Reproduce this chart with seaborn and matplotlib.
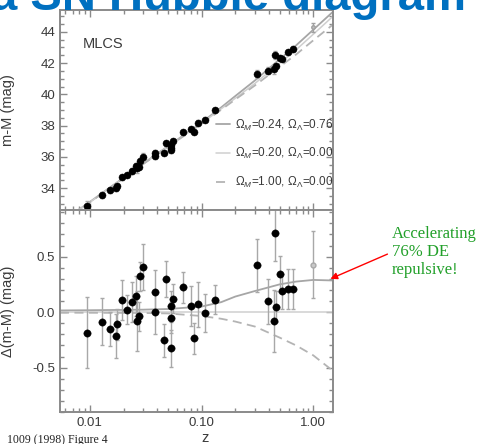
import pandas as pd
import seaborn as sns
import matplotlib.pyplot as plt
from matplotlib.ticker import AutoMinorLocator, MultipleLocator, FormatStrFormatter, NullFormatter

# --- data ---
z = [0.00946, 0.01274, 0.0151, 0.01734, 0.0171, 0.01923, 0.0216, 0.0236, 0.0260, 0.0265,
     0.0276, 0.0280, 0.0298, 0.0379, 0.0382, 0.0479, 0.0461, 0.0527, 0.0550, 0.0531,
     0.0534, 0.0676, 0.0797, 0.0847, 0.0932, 0.1071, 0.1325, 0.315, 0.453, 0.395,
     0.502, 0.460, 0.444, 0.524, 0.596, 0.653]
mm = [32.85, 33.57, 33.87, 34.13, 34.00, 34.69, 34.86, 35.11, 35.43, 35.26,
      35.37, 35.75, 36.01, 36.22, 36.05, 36.86, 36.26, 36.75, 37.00, 36.60,
      36.45, 37.57, 37.76, 37.61, 38.15, 38.38, 39.00, 41.31, 42.51, 41.52,
      42.35, 41.82, 41.61, 42.29, 42.68, 42.89]
delta = [-0.186, -0.086, -0.153, -0.108, -0.213, 0.105, 0.022, 0.094, 0.141, -0.081,
         -0.039, 0.322, 0.405, 0.18, 0.0, 0.30, -0.255, 0.051, 0.12, -0.05,
         -0.327, 0.225, 0.054, -0.237, 0.069, -0.009, 0.112, 0.42, 0.709, 0.096,
         0.342, 0.049, -0.081, 0.187, 0.207, 0.207]
err = [0.32, 0.21, 0.15, 0.14, 0.20, 0.18, 0.13, 0.18, 0.18, 0.27,
       0.13, 0.13, 0.21, 0.20, 0.20, 0.16, 0.15, 0.14, 0.13, 0.14,
       0.17, 0.14, 0.18, 0.14, 0.20, 0.17, 0.13, 0.24, 0.25, 0.20,
       0.16, 0.14, 0.28, 0.16, 0.18, 0.18]

# the grey (unfitted) high-z point
z_grey = [1.0]
mm_grey = [44.3]
delta_grey = [0.427]
err_grey = [0.30]

# model curves
z_mod = [0.0054, 0.01, 0.03, 0.05, 0.1, 0.15, 0.2, 0.3, 0.5, 0.7, 1.0, 1.5]
mm_lam = [31.77, 33.12, 35.57, 36.68, 38.20, 39.17, 39.89, 40.89, 42.25, 43.13, 44.14, 45.29]
mm_open = [31.75, 33.10, 35.55, 36.65, 38.15, 39.08, 39.75, 40.70, 42.00, 42.85, 43.85, 45.00]
mm_eds = [31.75, 33.09, 35.54, 36.64, 38.12, 39.02, 39.67, 40.57, 41.77, 42.55, 43.46, 44.47]
d_lam = [0.015, 0.017, 0.022, 0.028, 0.05, 0.09, 0.14, 0.19, 0.25, 0.275, 0.29, 0.285]
d_open = [0.0, 0.0, 0.0, 0.0, 0.0, 0.0, 0.0, 0.0, 0.0, 0.0, 0.0, 0.0]
d_eds = [-0.005, -0.006, -0.008, -0.012, -0.035, -0.06, -0.085, -0.13, -0.23, -0.30, -0.39, -0.53]

labels = [r'$\Omega_M$=0.24, $\Omega_\Lambda$=0.76',
          r'$\Omega_M$=0.20, $\Omega_\Lambda$=0.00',
          r'$\Omega_M$=1.00, $\Omega_\Lambda$=0.00']

sns.set_style('ticks')
plt.rcParams['font.family'] = ['Liberation Sans', 'DejaVu Sans']
plt.rcParams['mathtext.fontset'] = 'custom'
plt.rcParams['mathtext.rm'] = 'Liberation Sans'
plt.rcParams['mathtext.it'] = 'Liberation Sans:italic'

df = pd.DataFrame({'z': z, 'mm': mm, 'delta': delta, 'err': err})
models = pd.DataFrame({'z': z_mod, 'mm_lam': mm_lam, 'mm_open': mm_open, 'mm_eds': mm_eds,
                       'd_lam': d_lam, 'd_open': d_open, 'd_eds': d_eds})

spine_c = '#8a8a8a'
txt_c = '#3a3a3a'
line_styles = [('#a6a6a6', '-', 1.3), ('#cfcfcf', '-', 1.1), ('#b4b4b4', (0, (5, 3)), 1.3)]

fig = plt.figure(figsize=(4.79, 4.44), dpi=100)
ax1 = fig.add_axes([60 / 479, 1 - 210 / 444, 273 / 479, 200 / 444])
ax2 = fig.add_axes([60 / 479, 1 - 412 / 444, 273 / 479, 202 / 444])

for ax, cols in [(ax1, ['mm_lam', 'mm_open', 'mm_eds']), (ax2, ['d_lam', 'd_open', 'd_eds'])]:
    ax.set_xscale('log')
    for col, (c, ls, lw), lab in zip(cols, line_styles, labels):
        sns.lineplot(data=models, x='z', y=col, ax=ax, color=c, linestyle=ls, linewidth=lw,
                     label=lab if ax is ax1 else None, legend=False, zorder=1)

# data points with error bars
ax1.errorbar(df['z'], df['mm'], yerr=df['err'], fmt='none', ecolor='#a8a8a8', elinewidth=1, capsize=1.5, zorder=2)
ax2.errorbar(df['z'], df['delta'], yerr=df['err'], fmt='none', ecolor='#a8a8a8', elinewidth=1, capsize=1.5, zorder=2)
sns.scatterplot(data=df, x='z', y='mm', ax=ax1, color='black', s=26, edgecolor='black', linewidth=0.3, zorder=3)
sns.scatterplot(data=df, x='z', y='delta', ax=ax2, color='black', s=28, edgecolor='black', linewidth=0.3, zorder=3)

ax1.errorbar(z_grey, mm_grey, yerr=err_grey, fmt='o', ms=2.5, color='#a0a0a0', mfc='#c0c0c0',
             elinewidth=1, capsize=1.5, zorder=2)
ax2.errorbar(z_grey, delta_grey, yerr=err_grey, fmt='o', ms=3.5, color='#a8a8a8', mfc='#c8c8c8',
             elinewidth=1, capsize=1.5, zorder=2)

for ax in (ax1, ax2):
    ax.set_xlim(0.0054, 1.5)
    ax.xaxis.set_minor_formatter(NullFormatter())
    ax.tick_params(which='both', direction='in', top=True, right=True, colors=spine_c,
                   labelcolor=txt_c, labelsize=9.5, width=1)
    ax.tick_params(which='major', length=5)
    ax.tick_params(which='minor', length=3)
    for s in ax.spines.values():
        s.set_color(spine_c)
        s.set_linewidth(1.4)

ax1.set_ylim(32.6, 45.4)
ax1.yaxis.set_major_locator(MultipleLocator(2))
ax1.yaxis.set_minor_locator(AutoMinorLocator(4))
ax1.tick_params(labelbottom=False)
ax1.set_xlabel('')
ax1.set_ylabel('m-M (mag)', fontsize=10.5, color=txt_c)
ax1.yaxis.set_label_coords(-0.165, 0.5)
ax1.text(0.085, 0.83, 'MLCS', transform=ax1.transAxes, fontsize=10.5, color=txt_c, va='center')

leg = ax1.legend(loc='lower right', bbox_to_anchor=(1.0, 0.1), frameon=False, fontsize=8.5,
                 handlelength=1.2, handletextpad=0.4, labelspacing=1.15, borderpad=0, borderaxespad=0)
for t in leg.get_texts():
    t.set_color(txt_c)

ax2.set_ylim(-0.9, 0.92)
ax2.yaxis.set_major_locator(MultipleLocator(0.5))
ax2.yaxis.set_minor_locator(AutoMinorLocator(5))
ax2.yaxis.set_major_formatter(FormatStrFormatter('%.1f'))
ax2.xaxis.set_major_formatter(FormatStrFormatter('%.2f'))
ax2.set_ylabel('Δ(m-M) (mag)', fontsize=10.5, color=txt_c)
ax2.yaxis.set_label_coords(-0.165, 0.5)
ax2.set_xlabel('z', fontsize=10.5, color=txt_c)
ax2.xaxis.set_label_coords(0.531, -0.095)

# slide decorations (title and reference are cut by the slide edge)
fig.text(-0.019, 1 - 10 / 444, 'a SN Hubble diagram', fontsize=34, fontweight='bold',
         color='#0070C0', ha='left', va='baseline', zorder=10)
fig.text(7 / 479, 1 - 443 / 444, '1009 (1998) Figure 4', fontsize=8.5,
         family=['Liberation Serif', 'DejaVu Serif'], color='#222222', ha='left', va='baseline')
fig.text(392 / 479, 1 - 226 / 444, 'Accelerating\n76% DE\nrepulsive!', fontsize=12,
         family=['Liberation Serif', 'DejaVu Serif'], color='#22a02a', ha='left', va='top',
         linespacing=1.15)
ax2.annotate('', xy=(1.35, 0.29), xycoords='data', xytext=(390 / 479, 1 - 253 / 444),
             textcoords='figure fraction', annotation_clip=False,
             arrowprops=dict(arrowstyle='-|>', color='red', lw=1, mutation_scale=10))

fig.savefig('out.png', dpi=100)
